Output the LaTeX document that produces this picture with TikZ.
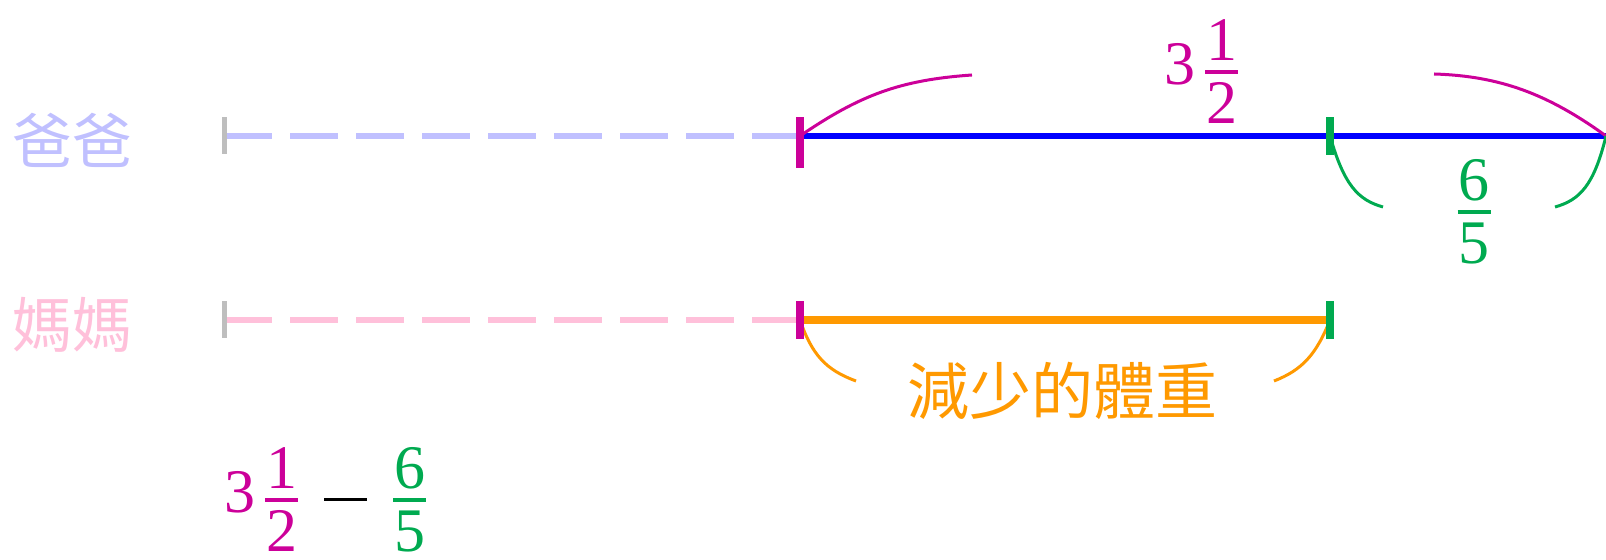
\documentclass[tikz,border=0pt]{standalone}
\usepackage{fontspec}
\setmainfont{Liberation Serif}
\newfontfamily\cjk{Noto Sans CJK TC}
\usepackage{xcolor}
\usepackage{tikz}

\definecolor{dadc}{RGB}{192,192,255}
\definecolor{momc}{RGB}{255,192,218}
\definecolor{magc}{RGB}{204,0,153}
\definecolor{grnc}{RGB}{0,170,80}
\definecolor{orgc}{RGB}{255,153,0}
\definecolor{grayc}{RGB}{190,190,190}

\newcommand{\fr}[2]{$\vcenter{\offinterlineskip\halign{\hskip.5pt\hfil##\hfil\hskip.5pt\cr#1\cr\noalign{\kern4.5pt\hrule height2pt\kern4.5pt}#2\cr}}$}
\newcommand{\minusbar}{$\vcenter{\hrule height1.5pt width21.5pt}$}

\begin{document}
\begin{tikzpicture}[x=0.5pt, y=-0.5pt,
	tick/.style = {rectangle, inner sep=0pt, minimum width=3.75pt, minimum height=19pt},
	endtick/.style = {tick, fill=grayc, minimum width=2.5pt, minimum height=18.5pt},
	dashline/.style = {line width=2.75pt, dash pattern=on 24pt off 9pt},
	brace/.style = {line width=1.5pt},
	who/.style = {font=\cjk\fontsize{30}{36}\selectfont, inner sep=0pt},
	lbl/.style = {font=\fontsize{31}{37}\selectfont, inner sep=0pt}]
\useasboundingbox (0,0) rectangle (1606,560);

\node[who, text=dadc]	(dad)	at (72,140)		{爸爸};
\node[who, text=momc]	(mom)	at (72,325)		{媽媽};

% line ends
\coordinate (d0) at (224,136);
\coordinate (d1) at (800,136);
\coordinate (d2) at (1330,136);
\coordinate (d3) at (1606,136);
\coordinate (m0) at (224,320);
\coordinate (m1) at (800,320);
\coordinate (m2) at (1330,320);

% brace ends
\coordinate (b1) at (972,75);
\coordinate (b2) at (1434,74);
\coordinate (g1) at (1383,207);
\coordinate (g2) at (1555,207);
\coordinate (o1) at (856,381);
\coordinate (o2) at (1274,381);

\path	(d0)	edge[dashline, draw=dadc]			(d1)
		(d1)	edge[line width=2.75pt, draw=blue]	(d3)
		(m0)	edge[dashline, draw=momc]			(m1)
		(m1)	edge[line width=4pt, draw=orgc]		(m2);

\draw[brace, magc] (d1) .. controls (860,95) and (900,80) .. (b1);
\draw[brace, magc] (b2) .. controls (1500,76) and (1548,94) .. (d3);
\draw[brace, grnc] (d2) .. controls (1344,185) and (1358,200) .. (g1);
\draw[brace, grnc] (g2) .. controls (1580,200) and (1594,185) .. (d3);
\draw[brace, orgc] (m1) .. controls (812,355) and (826,370) .. (o1);
\draw[brace, orgc] (o2) .. controls (1302,370) and (1316,355) .. (m2);

\node[endtick]								(t0) at (d0) {};
\node[endtick]								(t3) at ([xshift=1pt]d3) {};
\node[endtick]								(s0) at (m0) {};
\node[tick, fill=magc, minimum height=25.5pt, yshift=-3.25pt]	(t1) at (d1) {};
\node[tick, fill=grnc]						(t2) at (d2) {};
\node[tick, fill=magc]						(s1) at (m1) {};
\node[tick, fill=grnc]						(s2) at (m2) {};

\node[lbl, text=magc]	(whole)	at (1201,72)	{3\hspace{5pt}\fr{1}{2}};
\node[lbl, text=grnc]	(part)	at (1474,212)	{\fr{6}{5}};
\node[who, text=orgc, font=\cjk\fontsize{31}{37}\selectfont]	(lost)	at (1062,391)	{減少的體重};
\node[lbl]	(calc)	at (325,500)	{{\color{magc}3\hspace{5pt}\fr{1}{2}}\hspace{13pt}\minusbar\hspace{13pt}{\color{grnc}\fr{6}{5}}};
\end{tikzpicture}
\end{document}
